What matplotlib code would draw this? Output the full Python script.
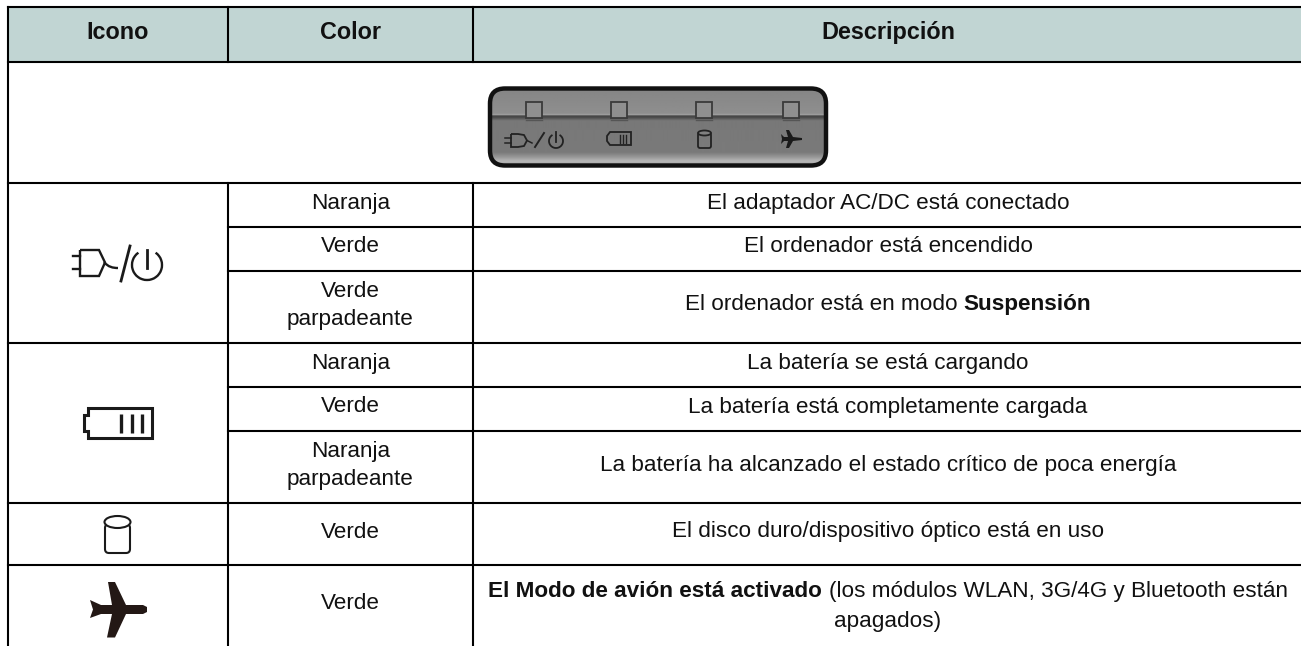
import numpy as np
import matplotlib
matplotlib.use('Agg')
import matplotlib.pyplot as plt
from matplotlib.patches import Rectangle, FancyBboxPatch, Ellipse, Arc, Polygon, PathPatch
from matplotlib.path import Path

plt.rcParams['font.family'] = ['Liberation Sans', 'DejaVu Sans']

headers = ['Icono', 'Color', 'Descripción']
colors = ['Naranja', 'Verde', 'Verde\nparpadeante', 'Naranja', 'Verde', 'Naranja\nparpadeante', 'Verde', 'Verde']
descriptions = [
    'El adaptador AC/DC está conectado',
    'El ordenador está encendido',
    None,
    'La batería se está cargando',
    'La batería está completamente cargada',
    'La batería ha alcanzado el estado crítico de poca energía',
    'El disco duro/dispositivo óptico está en uso',
    None,
]

col_x = [7.5, 228, 473, 1303]
row_y = [7, 62, 183, 227, 270.5, 343, 387, 431, 503, 565, 646]
INK = '#1a1a1a'
TXT = '#111111'

fig = plt.figure(figsize=(13.01, 6.46), dpi=100)
ax = fig.add_axes([0, 0, 1, 1])
ax.set_xlim(0, 1301)
ax.set_ylim(646, 0)
ax.axis('off')

# header band
ax.add_patch(Rectangle((col_x[0], row_y[0]), 1301 - col_x[0], row_y[1] - row_y[0], fc='#c1d5d3', ec='none'))

# grid
lw = 1.5
for y in [row_y[0], row_y[1], row_y[2], row_y[5], row_y[8], row_y[9]]:
    ax.plot([col_x[0], 1301], [y, y], 'k', lw=lw)
ax.plot([col_x[0], col_x[0]], [row_y[0], 646], 'k', lw=lw)
for x in col_x[1:3]:
    ax.plot([x, x], [row_y[0], row_y[1]], 'k', lw=lw)
    ax.plot([x, x], [row_y[2], 646], 'k', lw=lw)
for y in [row_y[3], row_y[4], row_y[6], row_y[7]]:
    ax.plot([col_x[1], 1301], [y, y], 'k', lw=lw)

# text
fs = 16.2
for i, h in enumerate(headers):
    ax.text((col_x[i] + col_x[i + 1]) / 2, 39, h, ha='center', va='baseline', fontsize=16.8, fontweight='bold', color=TXT)

for i, c in enumerate(colors):
    yc = (row_y[i + 2] + row_y[i + 3]) / 2
    lines = c.split('\n')
    if len(lines) == 2:
        ax.text((col_x[1] + col_x[2]) / 2, yc - 10, lines[0], ha='center', va='baseline', fontsize=fs, color=TXT)
        ax.text((col_x[1] + col_x[2]) / 2, yc + 18, lines[1], ha='center', va='baseline', fontsize=fs, color=TXT)
    else:
        ax.text((col_x[1] + col_x[2]) / 2, yc + 3.5, c, ha='center', va='baseline', fontsize=fs, color=TXT)
    if descriptions[i]:
        ax.text((col_x[2] + col_x[3]) / 2, yc + 3.5, descriptions[i], ha='center', va='baseline', fontsize=fs, color=TXT)

# mixed weight lines
def mixed(y, parts):
    items = [ax.text(0, y, s, va='baseline', ha='left', fontsize=fs, fontweight=w, color=TXT) for s, w in parts]
    fig.canvas.draw()
    r = fig.canvas.get_renderer()
    widths = [t.get_window_extent(r).width for t in items]
    # trailing spaces are not measured, so leave room for them
    gap = 6.3
    x = (col_x[2] + col_x[3]) / 2 - (sum(widths) + gap) / 2
    for t, w in zip(items, widths):
        t.set_x(x)
        x += w + gap

mixed(310, [('El ordenador está en modo', 'normal'), ('Suspensión', 'bold')])
mixed(597, [('El Modo de avión está activado', 'bold'), ('(los módulos WLAN, 3G/4G y Bluetooth están', 'normal')])
ax.text((col_x[2] + col_x[3]) / 2, 627, 'apagados)', ha='center', va='baseline', fontsize=fs, color=TXT)

# LED panel photo
panel = FancyBboxPatch((490, 88.5), 336, 77, boxstyle='round,pad=0,rounding_size=15', fc='none', ec='#111111', lw=3.2, zorder=4)
ax.add_patch(panel)
grad = np.interp(np.linspace(0, 1, 160), [0, 0.33, 0.345, 0.36, 0.38, 0.42, 0.82, 0.88, 0.93, 1],
                 [0.52, 0.56, 0.66, 0.26, 0.30, 0.47, 0.48, 0.60, 0.72, 0.6])
im = ax.imshow(grad[:, None], extent=(489, 827, 167, 87), cmap='gray', vmin=0, vmax=1, aspect='auto', zorder=2)
im.set_clip_path(panel)
ax.set_xlim(0, 1301)
ax.set_ylim(646, 0)
for x in [534, 618.5, 704, 791]:
    ax.add_patch(Rectangle((x - 8, 102), 16, 16, fc='#8f8f8f', ec='#3a3a3a', lw=1.3, zorder=3))
    ax.plot([x - 8, x + 8], [119.5, 119.5], color='#555555', lw=1, zorder=3)

pc = '#222222'
# small plug / power
ax.plot([505, 511], [138, 138], color=pc, lw=1.1, zorder=3)
ax.plot([505, 511], [143, 143], color=pc, lw=1.1, zorder=3)
ax.add_patch(PathPatch(Path([(511, 134), (518, 134), (524, 135), (527, 140.5), (524, 146), (518, 147), (511, 147), (511, 134)]), fc='none', ec=pc, lw=1.3, zorder=3))
ax.plot([527, 532], [140.5, 143], color=pc, lw=1.1, zorder=3)
ax.plot([535, 544], [147, 133], color=pc, lw=1.4, zorder=3)
ax.add_patch(Arc((556, 141), 14, 14, theta1=-60, theta2=240, color=pc, lw=1.3, zorder=3))
ax.plot([556, 556], [132, 142], color=pc, lw=1.3, zorder=3)
# small battery
ax.add_patch(Polygon([(610, 132), (631, 132), (631, 145), (610, 145), (607, 141), (607, 136)], fc='none', ec=pc, lw=1.3, zorder=3))
for x in [620, 623, 626]:
    ax.plot([x, x], [134.5, 142.5], color=pc, lw=1, zorder=3)
# small disk
ax.add_patch(FancyBboxPatch((698, 133), 13, 15, boxstyle='round,pad=0,rounding_size=2', fc='none', ec=pc, lw=1.3, zorder=3))
ax.add_patch(Ellipse((704.5, 133), 13, 5, fc='#808080', ec=pc, lw=1.3, zorder=3))
# small plane
plane_small = np.array([(802, 138), (802, 140), (793, 141), (789, 148), (786, 148), (788, 141), (784, 141), (781, 144), (782, 139), (781, 134), (784, 137), (788, 137), (786, 130), (789, 130), (793, 137)])
ax.add_patch(Polygon(plane_small, fc='#1a1a1a', ec='none', zorder=3))

# plug icon
ilw = 1.7
ax.plot([73, 80], [256, 256], color=INK, lw=ilw)
ax.plot([73, 80], [269, 269], color=INK, lw=ilw)
ax.add_patch(PathPatch(Path([(80, 250), (92, 250), (99, 250), (105, 262.5), (99, 276), (92, 276), (80, 276), (80, 250)]),
                       fc='none', ec=INK, lw=ilw))
ax.add_patch(PathPatch(Path([(104, 262), (108, 267), (113, 268), (118, 268)], [Path.MOVETO, Path.CURVE4, Path.CURVE4, Path.CURVE4]), fc='none', ec=INK, lw=ilw))
ax.plot([130, 121], [246, 281], color=INK, lw=2)
ax.add_patch(Arc((147, 265), 30, 30, theta1=-55, theta2=235, color=INK, lw=ilw))
ax.plot([147, 147], [250, 268], color=INK, lw=2)

# battery icon
ax.add_patch(Polygon([(88, 408), (152, 408), (152, 438), (88, 438), (88, 431), (84, 431), (84, 415), (88, 415)], fc='none', ec=INK, lw=2.2))
for x in [121, 132, 142]:
    ax.plot([x, x], [414, 433], color=INK, lw=2.4, solid_capstyle='butt')

# disk icon
ax.add_patch(FancyBboxPatch((105, 524), 25, 29, boxstyle='round,pad=0,rounding_size=4', fc='none', ec=INK, lw=1.5))
ax.add_patch(Ellipse((117.5, 522), 26, 12, fc='white', ec=INK, lw=1.5, zorder=3))

# plane icon
plane = np.array([(143, 605), (147, 607), (147, 612), (143, 614), (126, 614), (115, 637.5), (107, 637.5), (112, 614), (101, 614), (90, 618), (93, 609.5), (90, 600), (101, 605), (112, 605), (108, 582), (115, 582), (126, 605)])
ax.add_patch(Polygon(plane, fc='#231815', ec='none'))

fig.savefig('out.png', dpi=100)
